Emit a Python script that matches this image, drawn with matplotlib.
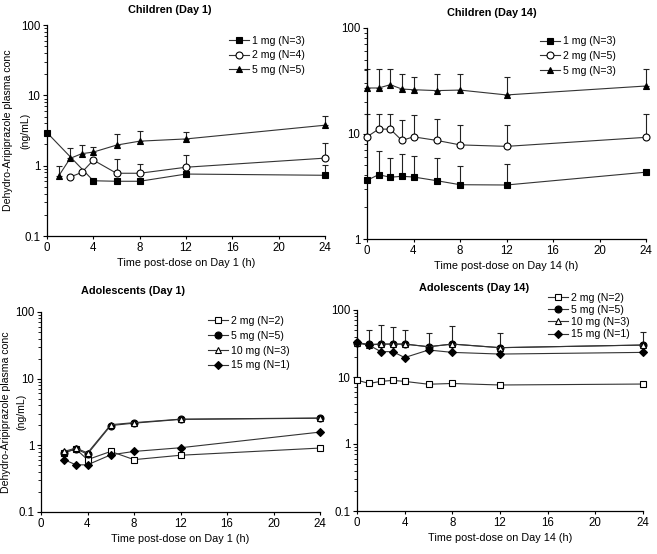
import numpy as np
import matplotlib.pyplot as plt
from matplotlib.ticker import LogLocator, FixedLocator, NullFormatter

plt.rcParams['font.family'] = ['Liberation Sans', 'DejaVu Sans']

# ---- Children Day 1 ----
c1_t_1mg = [0, 4, 6, 8, 12, 24]
c1_v_1mg = [2.95, 0.61, 0.60, 0.60, 0.76, 0.73]
c1_e_1mg = [0, 0, 0, 0, 0, 0.30]
c1_t_2mg = [2, 3, 4, 6, 8, 12, 24]
c1_v_2mg = [0.69, 0.80, 1.20, 0.78, 0.78, 0.95, 1.28]
c1_e_2mg = [0, 0, 0, 0.45, 0.27, 0.45, 0.80]
c1_t_5mg = [1, 2, 3, 4, 6, 8, 12, 24]
c1_v_5mg = [0.71, 1.27, 1.48, 1.56, 1.96, 2.23, 2.40, 3.76]
c1_e_5mg = [0.28, 0.53, 0.47, 0.30, 0.87, 0.87, 0.60, 1.40]

# ---- Children Day 14 ----
c14_t = [0, 1, 2, 3, 4, 6, 8, 12, 24]
c14_v_1mg = [3.6, 4.07, 3.85, 3.93, 3.87, 3.57, 3.27, 3.25, 4.3]
c14_e_1mg = [0, 2.8, 2.05, 2.45, 2.3, 2.3, 1.6, 1.85, 0]
c14_v_2mg = [9.3, 11.0, 11.0, 8.6, 9.3, 8.6, 7.8, 7.55, 9.2]
c14_e_2mg = [6.0, 4.3, 4.3, 4.7, 5.7, 5.2, 4.3, 4.5, 6.1]
c14_v_5mg = [27, 27, 29, 26.4, 26, 25.5, 25.8, 23.2, 28.2]
c14_e_5mg = [14, 14, 12, 10.2, 8, 11.1, 10.8, 11.1, 12.6]

# ---- Adolescents Day 1 ----
a1_t = [2, 3, 4, 6, 8, 12, 24]
a1_v_2mg = [0.78, 0.88, 0.61, 0.81, 0.61, 0.71, 0.91]
a1_v_5mg = [0.78, 0.88, 0.74, 1.98, 2.15, 2.45, 2.55]
a1_v_10mg = [0.81, 0.91, 0.77, 2.04, 2.19, 2.47, 2.57]
a1_v_15mg = [0.61, 0.51, 0.51, 0.72, 0.81, 0.92, 1.58]

# ---- Adolescents Day 14 ----
a14_t = [0, 1, 2, 3, 4, 6, 8, 12, 24]
a14_v_2mg = [9.0, 8.0, 8.6, 8.9, 8.6, 7.8, 8.0, 7.6, 7.85]
a14_v_5mg = [32.5, 30.7, 31, 31, 31, 28.3, 31, 27.4, 30]
a14_e_5mg = [0, 19.3, 28.7, 25, 19, 16.7, 26.6, 18.5, 17]
a14_v_10mg = [32, 30, 31, 31, 31, 28.3, 31, 27.4, 30]
a14_v_15mg = [33, 30, 23.9, 23.9, 19.5, 25.3, 23.3, 22, 23.3]

LINE = '#333333'
FS = 7.6
W, H = 657, 554


def serie(ax, t, v, marker, face, label, err=None, ms=5):
    if err is not None:
        ax.errorbar(t, v, yerr=[np.zeros(len(err)), err], fmt='none',
                    ecolor='#222222', elinewidth=0.8, capsize=2.5,
                    capthick=0.8, zorder=2, clip_on=False)
    ax.plot(t, v, color=LINE, linewidth=0.8, marker=marker, markersize=ms,
            markerfacecolor=face, markeredgecolor='black',
            markeredgewidth=0.8, label=label, zorder=3, clip_on=False)


def style(ax, ylo, title, tx, ty, xlabel, ylab=None):
    ax.set_yscale('log')
    ax.set_ylim(ylo, 100)
    ax.set_xlim(0, 24)
    ax.set_xticks([0, 4, 8, 12, 16, 20, 24])
    majors = [v for v in [0.1, 1, 10, 100] if v >= ylo]
    ax.yaxis.set_major_locator(FixedLocator(majors))
    ax.set_yticklabels(['%g' % v for v in majors])
    ax.yaxis.set_minor_locator(LogLocator(base=10, subs=np.arange(2, 10)))
    ax.yaxis.set_minor_formatter(NullFormatter())
    for s in ['top', 'right']:
        ax.spines[s].set_visible(False)
    for s in ['left', 'bottom']:
        ax.spines[s].set_linewidth(0.9)
    ax.tick_params(axis='both', which='major', labelsize=8.3, direction='out',
                   length=3, width=0.8, pad=2)
    ax.tick_params(axis='y', which='minor', direction='out', length=2, width=0.6)
    ax.tick_params(axis='x', length=2)
    ax.text(tx, ty, title, transform=ax.transAxes, fontsize=7.8,
            fontweight='bold', ha='center', va='center')
    ax.set_xlabel(xlabel, fontsize=7.8, labelpad=3)
    if ylab is not None:
        x1, x2 = ylab
        ax.set_ylabel('Dehydro-Aripiprazole plasma conc', fontsize=7.6)
        ax.yaxis.set_label_coords(x1, 0.5)
        ax.text(x2, 0.5, '(ng/mL)', transform=ax.transAxes, rotation=90,
                fontsize=7.6, ha='center', va='center')


def leg(ax, x, y, sp):
    ax.legend(loc='upper left', bbox_to_anchor=(x, y), frameon=False,
              fontsize=FS, borderpad=0, borderaxespad=0, handlelength=1.9,
              handletextpad=0.25, labelspacing=sp)


fig = plt.figure(figsize=(6.57, 5.54), dpi=100)


def add_ax(l, r, t, b):
    return fig.add_axes([l / W, 1 - b / H, (r - l) / W, (b - t) / H])


ax1 = add_ax(47, 325, 25, 236)
ax2 = add_ax(367, 646, 28, 239)
ax3 = add_ax(41, 320, 312, 512)
ax4 = add_ax(357, 643, 310, 511)

# Children Day 1
serie(ax1, c1_t_1mg, c1_v_1mg, 's', 'black', '1 mg (N=3)', c1_e_1mg)
serie(ax1, c1_t_2mg, c1_v_2mg, 'o', 'white', '2 mg (N=4)', c1_e_2mg)
serie(ax1, c1_t_5mg, c1_v_5mg, '^', 'black', '5 mg (N=5)', c1_e_5mg)
style(ax1, 0.1, 'Children (Day 1)', 0.442, 1 + 15 / 211,
      'Time post-dose on Day 1 (h)',
      ylab=((13 - 47) / 278, (25 - 47) / 278))
leg(ax1, 0.655, 0.95, 0.45)

# Children Day 14
serie(ax2, c14_t, c14_v_1mg, 's', 'black', '1 mg (N=3)', c14_e_1mg)
serie(ax2, c14_t, c14_v_2mg, 'o', 'white', '2 mg (N=5)', c14_e_2mg)
serie(ax2, c14_t, c14_v_5mg, '^', 'black', '5 mg (N=3)', c14_e_5mg)
style(ax2, 1, 'Children (Day 14)', 0.448, 1 + 15 / 211,
      'Time post-dose on Day 14 (h)')
leg(ax2, 0.62, 0.96, 0.45)

# Adolescents Day 1
serie(ax3, a1_t, a1_v_2mg, 's', 'white', '2 mg (N=2)')
serie(ax3, a1_t, a1_v_5mg, 'o', 'black', '5 mg (N=5)')
serie(ax3, a1_t, a1_v_10mg, '^', 'white', '10 mg (N=3)')
serie(ax3, a1_t, a1_v_15mg, 'D', 'black', '15 mg (N=1)', ms=3.8)
style(ax3, 0.1, 'Adolescents (Day 1)', 0.328, 1 + 21 / 200,
      'Time post-dose on Day 1 (h)',
      ylab=((11 - 41) / 279, (21 - 41) / 279))
leg(ax3, 0.6, 0.98, 0.45)

# Adolescents Day 14
serie(ax4, a14_t, a14_v_2mg, 's', 'white', '2 mg (N=2)')
serie(ax4, a14_t, a14_v_5mg, 'o', 'black', '5 mg (N=5)', a14_e_5mg)
serie(ax4, a14_t, a14_v_10mg, '^', 'white', '10 mg (N=3)')
serie(ax4, a14_t, a14_v_15mg, 'D', 'black', '15 mg (N=1)', ms=3.8)
style(ax4, 0.1, 'Adolescents (Day 14)', 0.41, 1 + 22 / 201,
      'Time post-dose on Day 14 (h)')
leg(ax4, 0.668, 1.085, 0.2)

fig.savefig('out.png', dpi=100)
